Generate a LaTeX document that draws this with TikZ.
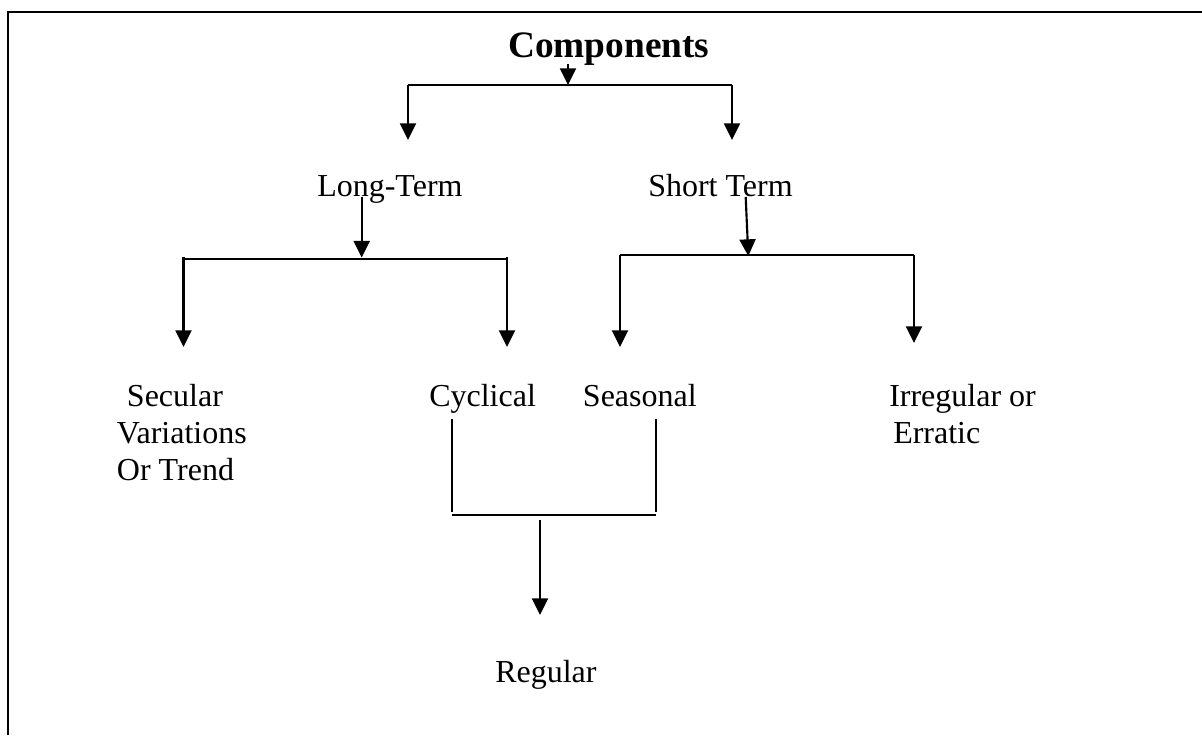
\documentclass[tikz,border=0pt]{standalone}
\usepackage{fontspec}
\setmainfont{Liberation Serif}
\usetikzlibrary{arrows.meta}
\begin{document}
\begin{tikzpicture}[x=0.75pt,y=-0.75pt,
  lbl/.style={anchor=base west,inner sep=0pt,align=left,font=\fontsize{24}{27.5}\selectfont},
  ttl/.style={anchor=base west,inner sep=0pt,font=\fontsize{28}{32}\selectfont\bfseries},
  arr/.style={line width=1.6pt,-{Triangle[width=12pt,length=12.5pt]}},
  ln/.style={line width=1.3pt},
  frame/.style={line width=2.2pt}]
\useasboundingbox (0,0) rectangle (1202,735);
% frame (top and left only)
\coordinate (f1) at (8,735);
\coordinate (f2) at (8,12);
\coordinate (f3) at (1202,12);
\draw[frame] (f1) -- (f2) -- (f3);

% texts (multi-line nodes: base = last line)
\node[ttl] (comp) at (508,58) {Components};
\node[lbl] (long) at (317,196.7) {Long-Term};
\node[lbl] (short) at (648,196.7) {Short Term};
\node[lbl] (sec) at (116.7,480) {\hspace*{7.5pt}Secular\\Variations\\Or Trend};
\node[lbl] (cyc) at (429,406.7) {Cyclical};
\node[lbl] (sea) at (582.7,406.7) {Seasonal};
\node[lbl] (irr) at (889,443.3) {Irregular or\\\hspace*{3pt}Erratic};
\node[lbl] (reg) at (495,682) {Regular};

% junction coordinates
\coordinate (c0) at (568,64);
\coordinate (c1) at (568,85);
\coordinate (cl) at (408,85);
\coordinate (cr) at (732,85);
\coordinate (cle) at (408,140);
\coordinate (cre) at (732,140);

\coordinate (l0) at (361.7,197);
\coordinate (l1) at (361.7,257.5);
\coordinate (lh1) at (183.5,259);
\coordinate (lh2) at (508,259);
\coordinate (ll0) at (183.5,257);
\coordinate (lle) at (183.5,347);
\coordinate (lr0) at (507,257);
\coordinate (lre) at (507,347);

\coordinate (s0) at (745.7,197);
\coordinate (s1) at (748.3,256);
\coordinate (sh1) at (620,255);
\coordinate (sh2) at (914,255);
\coordinate (sle) at (620,347);
\coordinate (sre) at (914,343);

\coordinate (y1) at (452.3,419);
\coordinate (y2) at (452.3,512);
\coordinate (e1) at (656,419);
\coordinate (e2) at (656,512);
\coordinate (m1) at (452.3,515);
\coordinate (m2) at (656,515);
\coordinate (r0) at (540,520);
\coordinate (r1) at (540,615);

% connectors
\draw[arr] (c0) -- (c1);
\draw[ln] (cl) -- (cr);
\draw[arr] (cl) -- (cle);
\draw[arr] (cr) -- (cre);

\draw[arr] (l0) -- (l1);
\draw[ln] (lh1) -- (lh2);
\draw[arr] (ll0) -- (lle);
\draw[arr] (lr0) -- (lre);

\draw[arr] (s0) -- (s1);
\draw[ln] (sh1) -- (sh2);
\draw[arr] (sh1) -- (sle);
\draw[arr] (sh2) -- (sre);

\draw[ln] (y1) -- (y2);
\draw[ln] (e1) -- (e2);
\draw[ln] (m1) -- (m2);
\draw[arr] (r0) -- (r1);
\end{tikzpicture}
\end{document}
